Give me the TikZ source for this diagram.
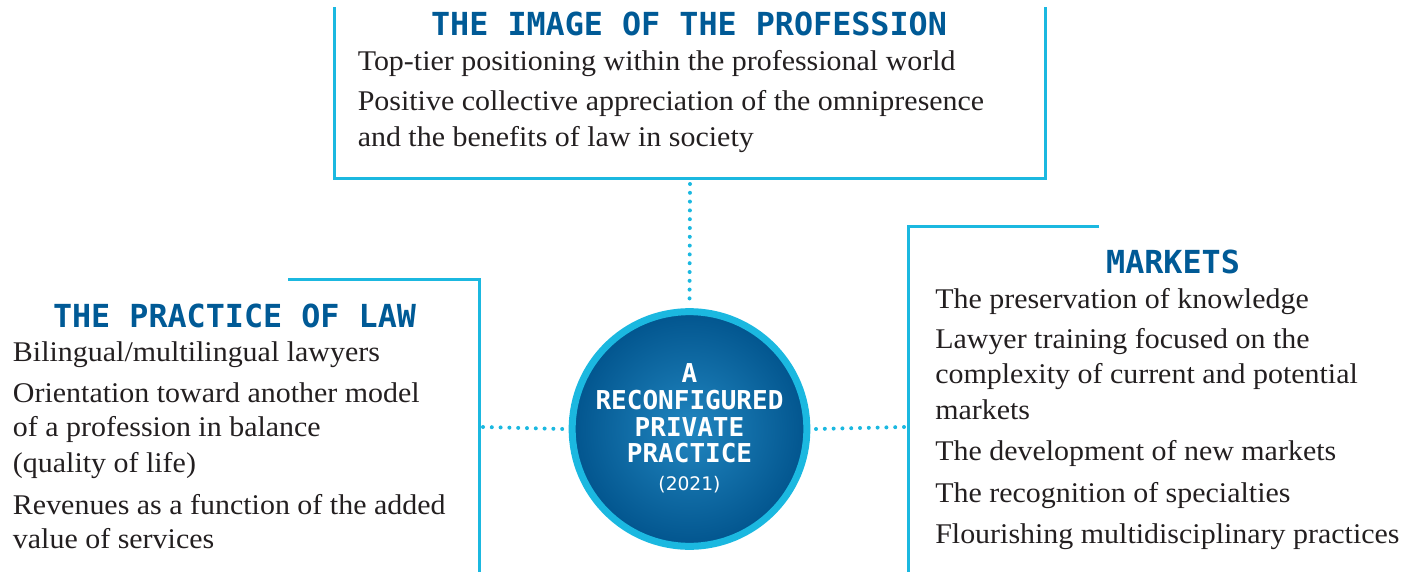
\documentclass[tikz,border=0pt]{standalone}
\usepackage{fontspec}
\setmainfont{Liberation Serif}[FakeStretch=1.05]
\newfontfamily\headfont{DejaVu Sans Mono}
\newfontfamily\yearfont{DejaVu Sans}
\definecolor{cyanline}{HTML}{1BB8E0}
\definecolor{headblue}{HTML}{005A96}
\definecolor{bodygray}{HTML}{231F20}
\definecolor{ballin}{HTML}{2186C0}
\definecolor{ballout}{HTML}{02558E}
\tikzset{
  x=0.75pt, y=-0.75pt,
  frameline/.style={draw=cyanline, line width=2.25pt},
  dotline/.style={draw=cyanline, line width=3pt, line cap=round, dash pattern=on 0pt off 6.6pt},
  heading/.style={anchor=base, inner sep=0pt, text=headblue, font=\headfont\bfseries\fontsize{23.8}{28}\selectfont},
  bodyline/.style={anchor=base west, inner sep=0pt, text=bodygray, font=\fontsize{21.4}{24}\selectfont},
  balltext/.style={anchor=base, inner sep=0pt, text=white, font=\headfont\bfseries\fontsize{19.5}{22}\selectfont},
  ball/.style={circle, draw=cyanline, line width=5.25pt, inner color=ballin, outer color=ballout, minimum size=176pt, inner sep=0pt}
}
\begin{document}
\begin{tikzpicture}
\useasboundingbox (0,0) rectangle (1420,571);
% frames
\draw[frameline] (334,7) -- (334,178) -- (1045.5,178) -- (1045.5,7);
\draw[frameline] (288,279.5) -- (479,279.5) -- (479,573);
\draw[frameline] (1099,226) -- (908,226) -- (908,573);
% central ball
\node[ball] (c) at (689.5,429) {};
\node[balltext] (c1) at (689.5,382) {A};
\node[balltext] (c2) at (689.5,409) {RECONFIGURED};
\node[balltext] (c3) at (689.5,436.5) {PRIVATE};
\node[balltext] (c4) at (689.5,462.5) {PRACTICE};
\node[anchor=base, inner sep=0pt, text=white, font=\yearfont\fontsize{14}{16}\selectfont] (c5) at (689.5,490.5) {(2021)};
% connectors
\coordinate (topend) at (690,184);
\coordinate (leftend) at (483,427);
\coordinate (rightend) at (904,427);
\draw[dotline] (topend) -- ([yshift=4pt]c.north);
\draw[dotline] (leftend) -- ([xshift=-4pt]c.west);
\draw[dotline] (rightend) -- ([xshift=4pt]c.east);
% top box
\node[heading] (h1) at (689,35) {THE IMAGE OF THE PROFESSION};
\node[bodyline] (t1) at (357.5,70.7) {Top-tier positioning within the professional world};
\node[bodyline] (t2) at (357.5,110.7) {Positive collective appreciation of the omnipresence};
\node[bodyline] (t3) at (357.5,146.5) {and the benefits of law in society};
% left box
\node[heading] (h2) at (234.5,327) {THE PRACTICE OF LAW};
\node[bodyline] (l1) at (12.7,361.7) {Bilingual/multilingual lawyers};
\node[bodyline] (l2) at (12.7,402.7) {Orientation toward another model};
\node[bodyline] (l3) at (12.7,436.7) {of a profession in balance};
\node[bodyline] (l4) at (12.7,472) {(quality of life)};
\node[bodyline] (l5) at (12.7,514) {Revenues as a function of the added};
\node[bodyline] (l6) at (12.7,548) {value of services};
% right box
\node[heading] (h3) at (1173,273) {MARKETS};
\node[bodyline] (r1) at (935,308) {The preservation of knowledge};
\node[bodyline] (r2) at (935,348) {Lawyer training focused on the};
\node[bodyline] (r3) at (935,383) {complexity of current and potential};
\node[bodyline] (r4) at (935,419) {markets};
\node[bodyline] (r5) at (935,460) {The development of new markets};
\node[bodyline] (r6) at (935,502) {The recognition of specialties};
\node[bodyline] (r7) at (935,543) {Flourishing multidisciplinary practices};
\end{tikzpicture}
\end{document}
